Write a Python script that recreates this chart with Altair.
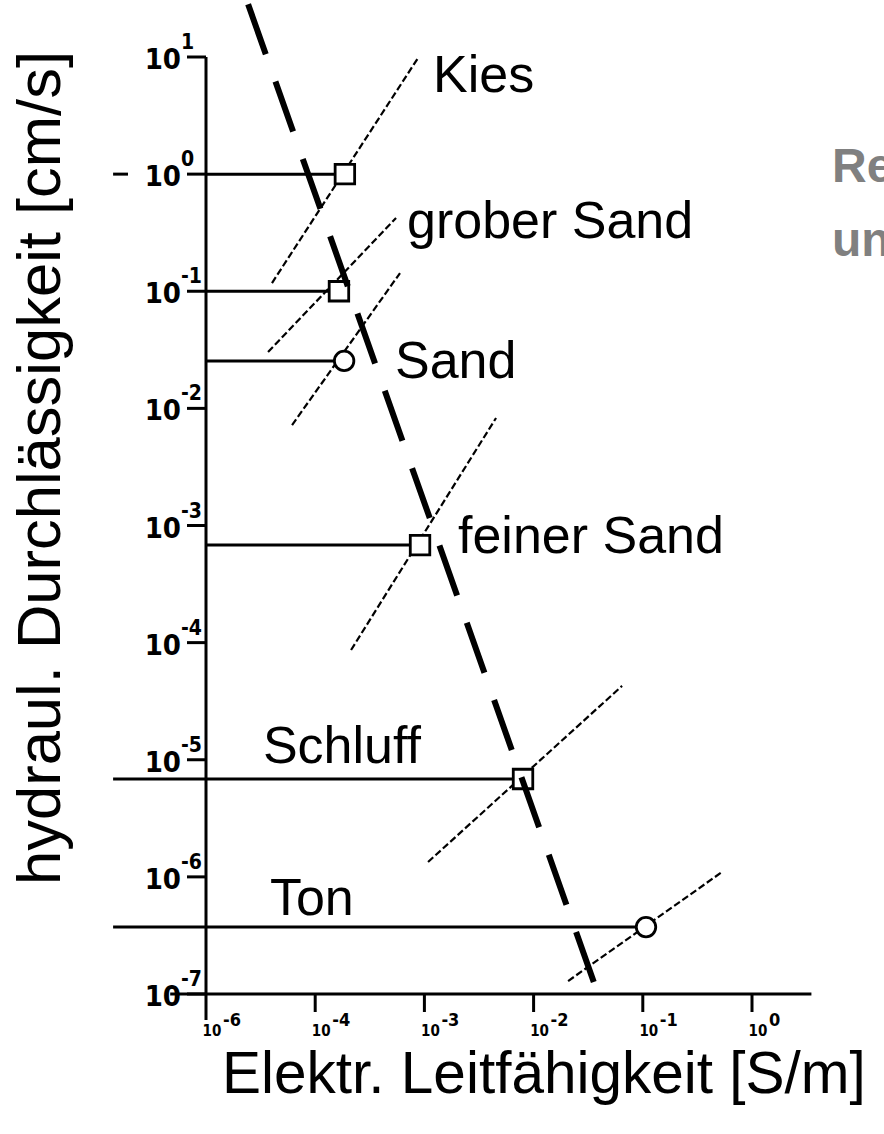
import altair as alt
import pandas as pd

# ---- soil classes -------------------------------------------------------
soils = ["Kies", "grober Sand", "Sand", "feiner Sand", "Schluff", "Ton"]
# marker position: conductivity [S/m] and permeability [cm/s]
marker_sigma = [1.87e-4, 1.65e-4, 1.84e-4, 9.12e-4, 8.0e-3, 0.107]
marker_k = [1.0, 0.1, 0.0254, 6.81e-4, 6.85e-6, 3.73e-7]
marker_shape = ["square", "square", "circle", "square", "square", "circle"]

# scatter band through each marker (lower and upper end)
band_sigma_lo = [4.02e-5, 3.70e-5, 6.14e-5, 2.13e-4, 1.08e-3, 2.07e-2]
band_k_lo = [0.1175, 0.0303, 7.21e-3, 8.65e-5, 1.34e-6, 1.29e-7]
band_sigma_hi = [8.73e-4, 5.50e-4, 5.98e-4, 4.53e-3, 6.46e-2, 0.531]
band_k_hi = [9.79, 0.422, 0.143, 8.28e-3, 4.27e-5, 1.10e-6]

# horizontal reference lines from the permeability axis to the marker
level_soil = ["Kies", "Kies", "grober Sand", "Sand", "feiner Sand", "Schluff", "Ton"]
level_sigma_start = [1.41e-6, 1.0e-5, 1.0e-5, 1.0e-5, 1.0e-5, 1.41e-6, 1.41e-6]
level_sigma_end = [1.93e-6, 1.87e-4, 1.65e-4, 1.84e-4, 9.12e-4, 8.0e-3, 0.107]
level_k = [1.0, 1.0, 0.1, 0.0254, 6.81e-4, 6.85e-6, 3.73e-7]

# label anchors
label_sigma = [1.2e-3, 6.93e-4, 5.38e-4, 2.03e-3, 3.32e-5, 3.85e-5]
label_k = [5.02, 0.285, 0.01815, 5.82e-4, 9.37e-6, 4.72e-7]

# overall trend (thick dashed line)
trend_sigma = [2.43e-5, 3.89e-2]
trend_k = [28.2, 1.0e-7]

# axis ticks
y_ticks = [10, 1, 0.1, 1e-2, 1e-3, 1e-4, 1e-5, 1e-6, 1e-7]
y_exp = ["1", "0", "-1", "-2", "-3", "-4", "-5", "-6", "-7"]
x_ticks = [1e-5, 1e-4, 1e-3, 1e-2, 1e-1, 1]
x_exp = ["-6", "-4", "-3", "-2", "-1", "0"]

NARROW = "Liberation Sans Narrow, DejaVu Sans Condensed, sans-serif"
SANS = "Liberation Sans, Arial, Helvetica, sans-serif"

xs = alt.Scale(type="log", domain=[1e-5, 1], range=[206, 752], nice=False)
ys = alt.Scale(type="log", domain=[1e-7, 10], range=[994, 57], nice=False)


def X(field):
    return alt.X(field, type="quantitative", scale=xs, axis=None)


def Y(field):
    return alt.Y(field, type="quantitative", scale=ys, axis=None)


markers = pd.DataFrame({"soil": soils, "s": marker_sigma, "k": marker_k, "shape": marker_shape})
bands = pd.DataFrame({"soil": soils, "s1": band_sigma_lo, "k1": band_k_lo,
                      "s2": band_sigma_hi, "k2": band_k_hi})
levels = pd.DataFrame({"soil": level_soil, "s1": level_sigma_start,
                       "s2": level_sigma_end, "k": level_k})
labels = pd.DataFrame({"soil": soils, "s": label_sigma, "k": label_k})
trend = pd.DataFrame({"s1": [trend_sigma[0]], "k1": [trend_k[0]],
                      "s2": [trend_sigma[1]], "k2": [trend_k[1]]})
yt = pd.DataFrame({"k": y_ticks, "e": y_exp})
xt = pd.DataFrame({"s": x_ticks, "e": x_exp})
one = pd.DataFrame({"a": [0]})

# axis frame
y_axis_line = alt.Chart(pd.DataFrame({"s": [1e-5], "k1": [10], "k2": [6.0e-8]})).mark_rule(
    color="black", strokeWidth=3).encode(x=X("s"), y=Y("k1"), y2="k2")
x_axis_line = alt.Chart(pd.DataFrame({"s1": [4.7e-6], "s2": [3.5], "k": [1e-7]})).mark_rule(
    color="black", strokeWidth=3).encode(x=X("s1"), x2="s2", y=Y("k"))
y_tick_marks = alt.Chart(yt).mark_rule(color="black", strokeWidth=3).encode(
    y=Y("k"), x=alt.value(187), x2=alt.value(206))
x_tick_marks = alt.Chart(xt[xt["s"] > 1e-5]).mark_rule(color="black", strokeWidth=3).encode(
    x=X("s"), y=alt.value(995), y2=alt.value(1012))

y_base = alt.Chart(yt).mark_text(text="10", font=NARROW, fontSize=29, fontWeight="bold",
                                 align="right", baseline="alphabetic", dy=12).encode(
    y=Y("k"), x=alt.value(181))
y_sup = alt.Chart(yt).mark_text(font=NARROW, fontSize=21, fontWeight="bold",
                                align="left", baseline="alphabetic", dy=-8).encode(
    y=Y("k"), x=alt.value(181), text="e:N")
x_base = alt.Chart(xt).mark_text(text="10", font=NARROW, fontSize=15, fontWeight="bold",
                                 align="center", baseline="alphabetic", dx=6).encode(
    x=X("s"), y=alt.value(1036))
x_sup = alt.Chart(xt).mark_text(font=NARROW, fontSize=18, fontWeight="bold",
                                align="left", baseline="alphabetic", dx=17).encode(
    x=X("s"), y=alt.value(1026), text="e:N")

x_title = alt.Chart(one).mark_text(text="Elektr. Leitfähigkeit [S/m]", font=SANS, fontSize=58.5,
                                   align="left", baseline="alphabetic").encode(
    x=alt.value(222), y=alt.value(1093))
y_title = alt.Chart(one).mark_text(text="hydraul. Durchlässigkeit [cm/s]", font=SANS, fontSize=61.5,
                                   angle=270, align="center", baseline="middle").encode(
    x=alt.value(42), y=alt.value(468))
side_1 = alt.Chart(one).mark_text(text="Re", font=SANS, fontSize=48, fontWeight="bold",
                                  color="#808080", align="left", baseline="alphabetic").encode(
    x=alt.value(832), y=alt.value(182))
side_2 = alt.Chart(one).mark_text(text="un", font=SANS, fontSize=48, fontWeight="bold",
                                  color="#808080", align="left", baseline="alphabetic").encode(
    x=alt.value(832), y=alt.value(256))

# data layers
level_lines = alt.Chart(levels).mark_rule(color="black", strokeWidth=3).encode(
    x=X("s1"), x2="s2", y=Y("k"))
band_lines = alt.Chart(bands).mark_rule(color="black", strokeWidth=2.2, strokeDash=[7, 3]).encode(
    x=X("s1"), y=Y("k1"), x2="s2", y2="k2")
marker_pts = alt.Chart(markers).mark_point(filled=True, fill="white", stroke="black",
                                           strokeWidth=2.8, opacity=1, size=380).encode(
    x=X("s"), y=Y("k"),
    shape=alt.Shape("shape:N", scale=None, legend=None))
trend_line = alt.Chart(trend).mark_rule(color="black", strokeWidth=6, strokeDash=[53, 29],
                                        strokeCap="butt").encode(
    x=X("s1"), y=Y("k1"), x2="s2", y2="k2")
soil_labels = alt.Chart(labels).mark_text(font=SANS, fontSize=52, align="left",
                                          baseline="alphabetic").encode(
    x=X("s"), y=Y("k"), text="soil:N")

chart = alt.layer(
    level_lines, band_lines, marker_pts, trend_line,
    y_axis_line, x_axis_line, y_tick_marks, x_tick_marks,
    y_base, y_sup, x_base, x_sup,
    x_title, y_title, side_1, side_2, soil_labels,
).properties(
    width=884, height=1134, padding=0, autosize="none"
).configure_view(stroke=None)

chart.save("out.html", embed_options={"renderer": "svg", "actions": False})
